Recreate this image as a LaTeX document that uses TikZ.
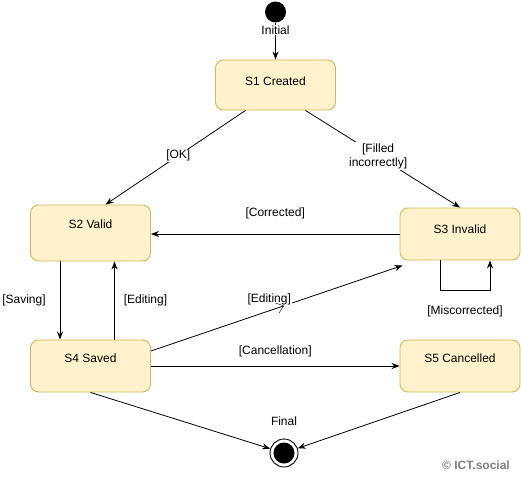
\documentclass[tikz,border=0pt]{standalone}
\usepackage{fontspec}
\setmainfont{Liberation Sans}
\usetikzlibrary{arrows.meta,decorations.markings}
\definecolor{statefill}{HTML}{FFF2CC}
\definecolor{stateline}{HTML}{D6B656}
\definecolor{markgray}{HTML}{808080}
\begin{document}
\begin{tikzpicture}[x=1pt,y=-1pt,
		state/.style={draw=stateline,fill=statefill,line width=0.9pt,rounded corners=8pt,minimum width=120pt,minimum height=52pt,inner sep=0pt,text height=9pt,font=\fontsize{12}{14}\selectfont},
		lbl/.style={fill=white,inner sep=1pt,align=center,font=\fontsize{12}{14}\selectfont},
		arr/.style={-{Stealth[length=8pt,width=6pt]},line width=0.8pt},
		initial/.style={circle,fill=black,minimum size=21pt,inner sep=0pt},
		final/.style={circle,draw=black,fill=white,line width=0.9pt,minimum size=28pt,inner sep=0pt,
			path picture={\fill[black] (path picture bounding box.center) circle (10.5pt);}}]
		\useasboundingbox (0,0) rectangle (521,476);
		\node[initial] (init) at (275.5,12) {};
		\node[state,minimum height=50pt,text depth=9pt] (s1) at (275.5,85) {S1 Created};
		\node[state,minimum height=56pt,text depth=19pt] (s2) at (90.5,233) {S2 Valid};
		\node[state,text depth=10pt] (s3) at (460,234) {S3 Invalid};
		\node[state,text depth=16pt] (s4) at (90.5,366) {S4 Saved};
		\node[state,text depth=16pt] (s5) at (460,366) {S5 Cancelled};
		\node[final] (fin) at (284,453) {};
		\node[lbl] (finlbl) at (284,421) {Final};
		\node[font=\bfseries\fontsize{12}{14}\selectfont,text=markgray] (copy) at (476,465) {© ICT.social};
		\coordinate (s3in) at ([xshift=3pt,yshift=-5pt]s3.south west);
		\draw[arr] (init) -- (s1) node[lbl,pos=0.2]{Initial};
		\draw[arr] ([xshift=-30pt]s1.south) -- ([xshift=15pt]s2.north) node[lbl,pos=0.48]{[OK]};
		\draw[arr] ([xshift=30pt]s1.south) -- (s3.north) node[lbl,pos=0.47]{[Filled\\incorrectly]};
		\draw[arr] (s3.west) -- (s3.west -| s2.east) node[lbl,midway,yshift=21pt]{[Corrected]};
		\draw[arr] ([xshift=-30.5pt]s2.south) -- ([xshift=-30.5pt]s4.north) node[lbl,midway,xshift=-36pt]{[Saving]};
		\draw[arr] ([xshift=24pt]s4.north) -- ([xshift=24pt]s2.south) node[lbl,midway,xshift=31pt]{[Editing]};
		\draw[arr] ([yshift=15pt]s4.east) -- (s3in) node[lbl,pos=0.47,yshift=11pt]{[Editing]};
		\draw[line width=0.8pt,decoration={markings,mark=at position 0.53 with {\arrow{Straight Barb[length=7pt,width=11pt]}}},decorate] ([yshift=15pt]s4.east) -- (s3in);
		\draw[arr] (s4.east) -- (s5.west) node[lbl,midway,yshift=15pt]{[Cancellation]};
		\draw[arr] ([xshift=-20pt]s3.south) -- ++(0,30) -| ([xshift=30pt]s3.south) node[lbl,pos=0.25,yshift=-21pt]{[Miscorrected]};
		\draw[arr] (s4.south) -- (fin);
		\draw[arr] (s5.south) -- (fin);
	\end{tikzpicture}
\end{document}
